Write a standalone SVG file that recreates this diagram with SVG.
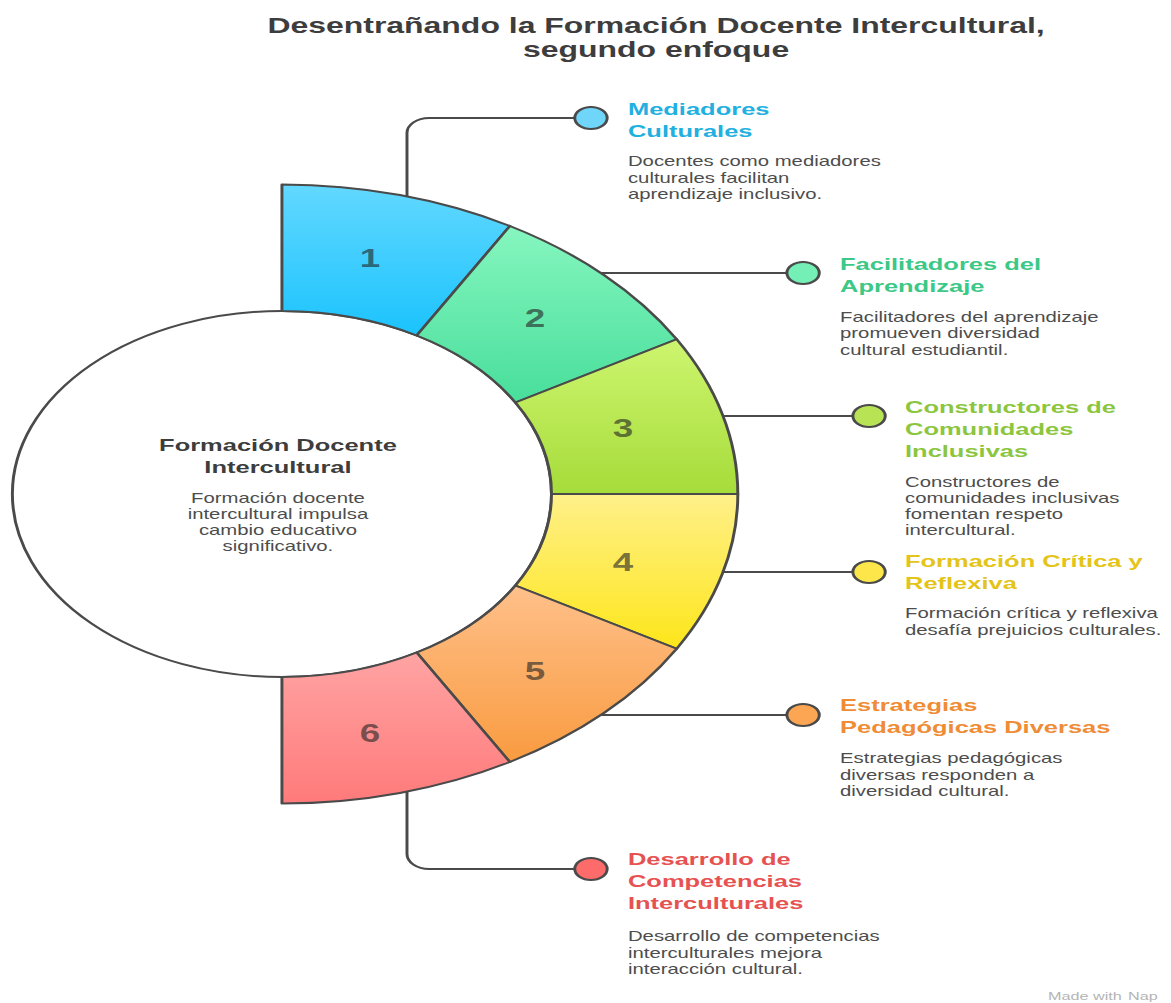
<svg xmlns="http://www.w3.org/2000/svg" width="1171" height="1003" viewBox="0 0 1171 1003">
<defs>
<linearGradient id="g1" x1="0" y1="0" x2="0" y2="1"><stop offset="0" stop-color="#62d8ff"/><stop offset="1" stop-color="#1bc3fd"/></linearGradient>
<linearGradient id="g2" x1="0" y1="0" x2="0" y2="1"><stop offset="0" stop-color="#86f6bf"/><stop offset="1" stop-color="#48de9b"/></linearGradient>
<linearGradient id="g3" x1="0" y1="0" x2="0" y2="1"><stop offset="0" stop-color="#cdf56f"/><stop offset="1" stop-color="#a6dc3a"/></linearGradient>
<linearGradient id="g4" x1="0" y1="0" x2="0" y2="1"><stop offset="0" stop-color="#fff08a"/><stop offset="1" stop-color="#fde61a"/></linearGradient>
<linearGradient id="g5" x1="0" y1="0" x2="0" y2="1"><stop offset="0" stop-color="#ffc08a"/><stop offset="1" stop-color="#f99b40"/></linearGradient>
<linearGradient id="g6" x1="0" y1="0" x2="0" y2="1"><stop offset="0" stop-color="#ffa4a4"/><stop offset="1" stop-color="#ff7a7a"/></linearGradient>
</defs>
<style>
.seg{stroke:#4a4a4a;stroke-width:2;stroke-linejoin:round}
.num{font-family:"Liberation Sans",Arial,sans-serif;font-weight:bold;font-size:25px;fill:#222;fill-opacity:.6;text-anchor:middle}
.conn{fill:none;stroke:#4a4a4a;stroke-width:2}
.dot{stroke:#4a4a4a;stroke-width:2}
.title{font-family:"Liberation Sans",Arial,sans-serif;font-weight:bold;font-size:21.7px;fill:#3d3d3d;text-anchor:middle}
.head{font-family:"Liberation Sans",Arial,sans-serif;font-weight:bold;font-size:17.3px}
.body{font-family:"Liberation Sans",Arial,sans-serif;font-size:13.8px;fill:#4d4d4d}
.mid{text-anchor:middle}
.wm{font-family:"Liberation Sans",Arial,sans-serif;font-size:11px;fill:#b4b4b4}
</style>
<rect width="1171" height="1003" fill="#ffffff"/>
<g transform="scale(1.473,1)">
  <g id="title">
    <text class="title" x="445.4" y="33">Desentrañando la Formación Docente Intercultural,</text>
    <text class="title" x="445.4" y="57">segundo enfoque</text>
  </g>
  <g id="connectors">
    <path class="conn" d="M276.3 196.4 V133 A15 15 0 0 1 291.3 118 H390.2"/>
    <path class="conn" d="M408.1 273 H534.2"/>
    <path class="conn" d="M490.9 416 H579"/>
    <path class="conn" d="M490.9 572 H579"/>
    <path class="conn" d="M408.1 715 H534.2"/>
    <path class="conn" d="M276.3 791.6 V854 A15 15 0 0 0 291.3 869 H390.2"/>
  </g>
  <g id="center-node">
    <circle cx="191.4" cy="494" r="183" fill="#ffffff" stroke="#4a4a4a" stroke-width="2"/>
    <text class="head mid" x="188.7" y="451.5" fill="#3d3d3d">Formación Docente</text>
    <text class="head mid" x="188.7" y="473.5" fill="#3d3d3d">Intercultural</text>
    <text class="body mid" x="188.7" y="502.7">Formación docente</text>
    <text class="body mid" x="188.7" y="518.8">intercultural impulsa</text>
    <text class="body mid" x="188.7" y="535">cambio educativo</text>
    <text class="body mid" x="188.7" y="551">significativo.</text>
  </g>
  <g id="segment-1">
    <path class="seg" fill="url(#g1)" d="M191.4 184.5 A309.5 309.5 0 0 1 346.15 226 L282.9 335.5 A183 183 0 0 0 191.4 311 Z"/>
    <text class="num" x="251.2" y="267">1</text>
  </g>
  <g id="segment-2">
    <path class="seg" fill="url(#g2)" d="M346.15 226 A309.5 309.5 0 0 1 459.4 339.25 L349.9 402.5 A183 183 0 0 0 282.9 335.5 Z"/>
    <text class="num" x="363.2" y="327">2</text>
  </g>
  <g id="segment-3">
    <path class="seg" fill="url(#g3)" d="M459.4 339.25 A309.5 309.5 0 0 1 500.9 494 L374.4 494 A183 183 0 0 0 349.9 402.5 Z"/>
    <text class="num" x="423" y="437">3</text>
  </g>
  <g id="segment-4">
    <path class="seg" fill="url(#g4)" d="M500.9 494 A309.5 309.5 0 0 1 459.4 648.75 L349.9 585.5 A183 183 0 0 0 374.4 494 Z"/>
    <text class="num" x="423" y="571">4</text>
  </g>
  <g id="segment-5">
    <path class="seg" fill="url(#g5)" d="M459.4 648.75 A309.5 309.5 0 0 1 346.15 762 L282.9 652.5 A183 183 0 0 0 349.9 585.5 Z"/>
    <text class="num" x="363.2" y="680">5</text>
  </g>
  <g id="segment-6">
    <path class="seg" fill="url(#g6)" d="M346.15 762 A309.5 309.5 0 0 1 191.4 803.5 L191.4 677 A183 183 0 0 0 282.9 652.5 Z"/>
    <text class="num" x="251.2" y="742">6</text>
  </g>
  <g id="item-1">
    <circle class="dot" cx="401.2" cy="118" r="11" fill="#6fd6fa"/>
    <text class="head" x="426.3" y="115" fill="#22b0e0">Mediadores</text>
    <text class="head" x="426.3" y="137" fill="#22b0e0">Culturales</text>
    <text class="body" x="426.3" y="166.5">Docentes como mediadores</text>
    <text class="body" x="426.3" y="183">culturales facilitan</text>
    <text class="body" x="426.3" y="199.5">aprendizaje inclusivo.</text>
  </g>
  <g id="item-2">
    <circle class="dot" cx="545.2" cy="273" r="11" fill="#74efb5"/>
    <text class="head" x="570.3" y="270.5" fill="#3cc886">Facilitadores del</text>
    <text class="head" x="570.3" y="292.5" fill="#3cc886">Aprendizaje</text>
    <text class="body" x="570.3" y="322">Facilitadores del aprendizaje</text>
    <text class="body" x="570.3" y="338.5">promueven diversidad</text>
    <text class="body" x="570.3" y="355">cultural estudiantil.</text>
  </g>
  <g id="item-3">
    <circle class="dot" cx="590" cy="416" r="11" fill="#b8e354"/>
    <text class="head" x="614.4" y="413" fill="#8cc63f">Constructores de</text>
    <text class="head" x="614.4" y="435" fill="#8cc63f">Comunidades</text>
    <text class="head" x="614.4" y="457" fill="#8cc63f">Inclusivas</text>
    <text class="body" x="614.4" y="486.7">Constructores de</text>
    <text class="body" x="614.4" y="503">comunidades inclusivas</text>
    <text class="body" x="614.4" y="519">fomentan respeto</text>
    <text class="body" x="614.4" y="535.3">intercultural.</text>
  </g>
  <g id="item-4">
    <circle class="dot" cx="590" cy="572" r="11" fill="#fde64a"/>
    <text class="head" x="614.4" y="566.7" fill="#e4c419">Formación Crítica y</text>
    <text class="head" x="614.4" y="589" fill="#e4c419">Reflexiva</text>
    <text class="body" x="614.4" y="618.3">Formación crítica y reflexiva</text>
    <text class="body" x="614.4" y="634.7">desafía prejuicios culturales.</text>
  </g>
  <g id="item-5">
    <circle class="dot" cx="545.2" cy="715" r="11" fill="#fca553"/>
    <text class="head" x="570.3" y="711.5" fill="#ef8c36">Estrategias</text>
    <text class="head" x="570.3" y="733.5" fill="#ef8c36">Pedagógicas Diversas</text>
    <text class="body" x="570.3" y="763.5">Estrategias pedagógicas</text>
    <text class="body" x="570.3" y="780">diversas responden a</text>
    <text class="body" x="570.3" y="796.5">diversidad cultural.</text>
  </g>
  <g id="item-6">
    <circle class="dot" cx="401.2" cy="869" r="11" fill="#fe6b6b"/>
    <text class="head" x="426.3" y="865" fill="#e65252">Desarrollo de</text>
    <text class="head" x="426.3" y="887" fill="#e65252">Competencias</text>
    <text class="head" x="426.3" y="909" fill="#e65252">Interculturales</text>
    <text class="body" x="426.3" y="941.5">Desarrollo de competencias</text>
    <text class="body" x="426.3" y="958">interculturales mejora</text>
    <text class="body" x="426.3" y="974.5">interacción cultural.</text>
  </g>
  <g id="watermark">
    <text class="wm" x="711.5" y="1000">Made with</text>
    <text class="wm" x="765.8" y="1000">Nap</text>
  </g>
</g>
</svg>
